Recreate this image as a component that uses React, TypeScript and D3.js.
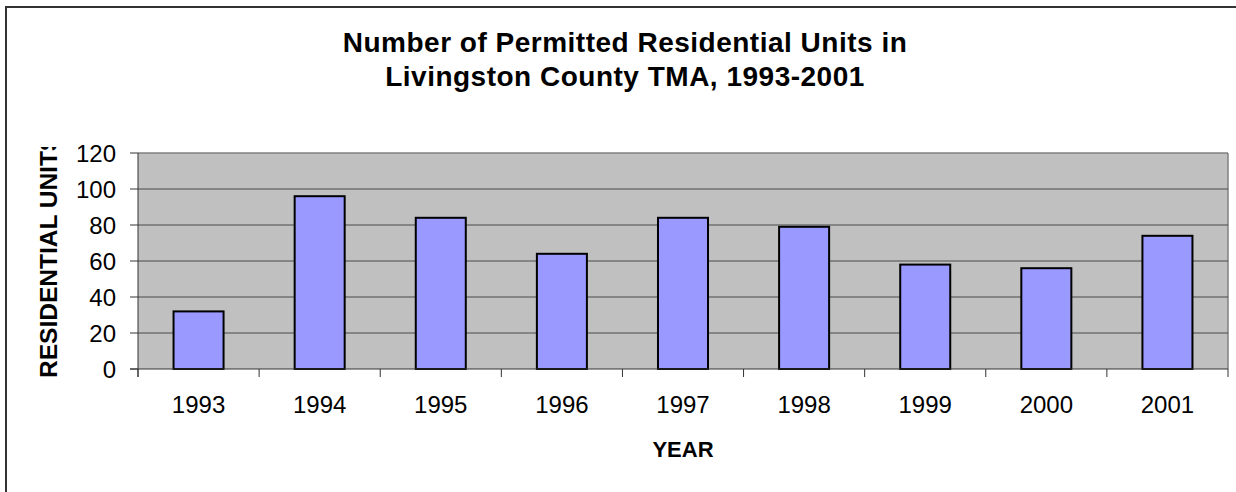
import React from 'react';
import * as d3 from 'd3';

const width = 1236;
const height = 492;
const plot = { left: 138, right: 1228, top: 153, bottom: 369 };

const years = ['1993', '1994', '1995', '1996', '1997', '1998', '1999', '2000', '2001'];
const units = [32, 96, 84, 64, 84, 79, 58, 56, 74];
const yTicks = [0, 20, 40, 60, 80, 100, 120];

const titleLines = ['Number of Permitted Residential Units in', 'Livingston County TMA, 1993-2001'];

const font = 'Arial, "Liberation Sans", Helvetica, sans-serif';

const App = () => {
  const xScale = d3.scaleBand<string>()
    .domain(years)
    .range([plot.left, plot.right])
    .padding(0);

  const yScale = d3.scaleLinear()
    .domain([0, 120])
    .range([plot.bottom, plot.top]);

  const step = xScale.bandwidth();
  const barW = step * 0.413;
  const boundaries = years.map(y => xScale(y) as number).concat([plot.right]);

  return (
    <svg
      width={width}
      height={height}
      style={{ position: 'absolute', left: 0, top: 0, display: 'block', background: '#fff' }}
      fontFamily={font}
    >
      <defs>
        <clipPath id="ylabClip">
          <rect x={0} y={147} width={120} height={300} />
        </clipPath>
      </defs>

      {/* outer frame */}
      <line x1={6} x2={6} y1={6} y2={height} stroke="#333" strokeWidth={2} />
      <line x1={5} x2={width} y1={7} y2={7} stroke="#333" strokeWidth={2} />

      {/* Title */}
      {titleLines.map((t, i) => (
        <text
          key={i}
          x={625}
          y={52 + i * 34}
          textAnchor="middle"
          fontSize={28}
          letterSpacing={0.5}
          fontWeight="bold"
          fill="#000"
        >
          {t}
        </text>
      ))}

      {/* plot area */}
      <rect
        x={plot.left}
        y={plot.top}
        width={plot.right - plot.left}
        height={plot.bottom - plot.top}
        fill="#c0c0c0"
      />
      <line x1={plot.left} x2={plot.right} y1={plot.top} y2={plot.top} stroke="#808080" strokeWidth={1.5} />
      <line x1={plot.right} x2={plot.right} y1={plot.top} y2={plot.bottom} stroke="#808080" strokeWidth={1.5} />

      {/* grid lines + y ticks */}
      {yTicks.map(t => (
        <g key={t}>
          {t > 0 && t < 120 && (
            <line
              x1={plot.left}
              x2={plot.right}
              y1={yScale(t)}
              y2={yScale(t)}
              stroke="#4a4a4a"
              strokeWidth={1}
            />
          )}
          <line x1={plot.left - 8} x2={plot.left} y1={yScale(t)} y2={yScale(t)} stroke="#333" strokeWidth={1} />
          <text
            x={116}
            y={yScale(t)}
            dy="0.36em"
            textAnchor="end"
            fontSize={24}
            fill="#000"
          >
            {t}
          </text>
        </g>
      ))}

      {/* bars */}
      {years.map((y, i) => (
        <rect
          key={y}
          x={(xScale(y) as number) + (step - barW) / 2}
          y={yScale(units[i])}
          width={barW}
          height={yScale(0) - yScale(units[i])}
          fill="#9999ff"
          stroke="#000"
          strokeWidth={2}
        />
      ))}

      {/* axes */}
      <line x1={plot.left} x2={plot.left} y1={plot.top} y2={plot.bottom + 8} stroke="#333" strokeWidth={1} />
      <line x1={plot.left - 8} x2={plot.right} y1={plot.bottom} y2={plot.bottom} stroke="#333" strokeWidth={1.2} />
      {boundaries.map((b, i) => (
        <line key={i} x1={b} x2={b} y1={plot.bottom} y2={plot.bottom + 8} stroke="#333" strokeWidth={1} />
      ))}

      {/* x tick labels */}
      {years.map(y => (
        <text
          key={y}
          x={(xScale(y) as number) + step / 2}
          y={413}
          textAnchor="middle"
          fontSize={24}
          fill="#000"
        >
          {y}
        </text>
      ))}

      {/* axis titles */}
      <text x={683} y={457} textAnchor="middle" fontSize={22} fontWeight="bold" fill="#000">
        YEAR
      </text>
      <g clipPath="url(#ylabClip)">
        <text
          transform="translate(57, 378) rotate(-90)"
          textAnchor="start"
          fontSize={24.5}
          fontWeight="bold"
          fill="#000"
        >
          RESIDENTIAL UNITS
        </text>
      </g>
    </svg>
  );
};

export default App;
